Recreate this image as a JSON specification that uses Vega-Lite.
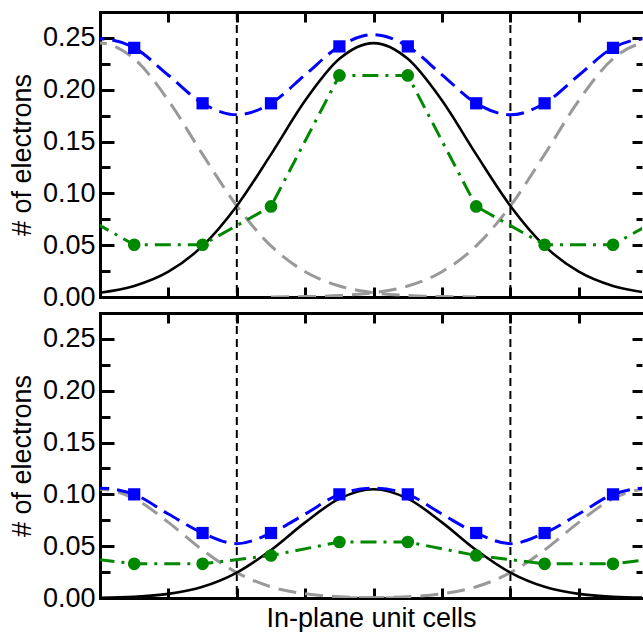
{
  "$schema": "https://vega.github.io/schema/vega-lite/v6.json",
  "padding": {"left": 8, "top": 10, "right": 0, "bottom": 0},
  "spacing": 1,
  "background": "white",
  "config": {
    "view": {"stroke": null},
    "font": "Liberation Sans",
    "axis": {
      "labelFont": "Liberation Sans", "labelFontSize": 27, "labelColor": "black",
      "titleFont": "Liberation Sans", "titleFontSize": 27, "titleFontWeight": "normal", "titleColor": "black",
      "domainColor": "black", "domainWidth": 3, "domainCap": "square",
      "tickColor": "black", "tickWidth": 3, "grid": false, "zindex": 1
    }
  },
  "datasets": {
    "topCurves": [
      {"s": "black", "x": -4.5, "v": 0.0014}, {"s": "black", "x": -4, "v": 0.0041}, {"s": "black", "x": -3.5, "v": 0.0106}, {"s": "black", "x": -3, "v": 0.0244}, {"s": "black", "x": -2.5, "v": 0.0493}, {"s": "black", "x": -2, "v": 0.0879}, {"s": "black", "x": -1.5, "v": 0.1376}, {"s": "black", "x": -1, "v": 0.1896}, {"s": "black", "x": -0.5, "v": 0.2298}, {"s": "black", "x": 0, "v": 0.245}, {"s": "black", "x": 0.5, "v": 0.2298}, {"s": "black", "x": 1, "v": 0.1896}, {"s": "black", "x": 1.5, "v": 0.1376}, {"s": "black", "x": 2, "v": 0.0879}, {"s": "black", "x": 2.5, "v": 0.0493}, {"s": "black", "x": 3, "v": 0.0244}, {"s": "black", "x": 3.5, "v": 0.0106}, {"s": "black", "x": 4, "v": 0.0041}, {"s": "black", "x": 4.5, "v": 0.0014},
      {"s": "grayL", "x": -4.5, "v": 0.2298}, {"s": "grayL", "x": -4, "v": 0.245}, {"s": "grayL", "x": -3.5, "v": 0.2298}, {"s": "grayL", "x": -3, "v": 0.1896}, {"s": "grayL", "x": -2.5, "v": 0.1376}, {"s": "grayL", "x": -2, "v": 0.0879}, {"s": "grayL", "x": -1.5, "v": 0.0493}, {"s": "grayL", "x": -1, "v": 0.0244}, {"s": "grayL", "x": -0.5, "v": 0.0106}, {"s": "grayL", "x": 0, "v": 0.0041}, {"s": "grayL", "x": 0.5, "v": 0.0014}, {"s": "grayL", "x": 1, "v": 0.0004}, {"s": "grayL", "x": 1.5, "v": 0.0001},
      {"s": "grayR", "x": -1.5, "v": 0.0001}, {"s": "grayR", "x": -1, "v": 0.0004}, {"s": "grayR", "x": -0.5, "v": 0.0014}, {"s": "grayR", "x": 0, "v": 0.0041}, {"s": "grayR", "x": 0.5, "v": 0.0106}, {"s": "grayR", "x": 1, "v": 0.0244}, {"s": "grayR", "x": 1.5, "v": 0.0493}, {"s": "grayR", "x": 2, "v": 0.0879}, {"s": "grayR", "x": 2.5, "v": 0.1376}, {"s": "grayR", "x": 3, "v": 0.1896}, {"s": "grayR", "x": 3.5, "v": 0.2298}, {"s": "grayR", "x": 4, "v": 0.245}, {"s": "grayR", "x": 4.5, "v": 0.2298},
      {"s": "blue", "x": -4.5, "v": 0.2312}, {"s": "blue", "x": -4, "v": 0.2491}, {"s": "blue", "x": -3.5, "v": 0.2404}, {"s": "blue", "x": -3, "v": 0.214}, {"s": "blue", "x": -2.5, "v": 0.1869}, {"s": "blue", "x": -2, "v": 0.1758}, {"s": "blue", "x": -1.5, "v": 0.1869}, {"s": "blue", "x": -1, "v": 0.2144}, {"s": "blue", "x": -0.5, "v": 0.2418}, {"s": "blue", "x": 0, "v": 0.2532}, {"s": "blue", "x": 0.5, "v": 0.2418}, {"s": "blue", "x": 1, "v": 0.2144}, {"s": "blue", "x": 1.5, "v": 0.1869}, {"s": "blue", "x": 2, "v": 0.1758}, {"s": "blue", "x": 2.5, "v": 0.1869}, {"s": "blue", "x": 3, "v": 0.214}, {"s": "blue", "x": 3.5, "v": 0.2404}, {"s": "blue", "x": 4, "v": 0.2491}, {"s": "blue", "x": 4.5, "v": 0.2312}
    ],
    "topPoints": [
      {"x": -4.5, "blue": 0.2312, "green": 0.0874, "m": 0},
      {"x": -3.5, "blue": 0.2404, "green": 0.0504, "m": 1},
      {"x": -2.5, "blue": 0.1869, "green": 0.0504, "m": 1},
      {"x": -1.5, "blue": 0.1869, "green": 0.0874, "m": 1},
      {"x": -0.5, "blue": 0.2418, "green": 0.2138, "m": 1},
      {"x": 0.5, "blue": 0.2418, "green": 0.2138, "m": 1},
      {"x": 1.5, "blue": 0.1869, "green": 0.0874, "m": 1},
      {"x": 2.5, "blue": 0.1869, "green": 0.0504, "m": 1},
      {"x": 3.5, "blue": 0.2404, "green": 0.0504, "m": 1},
      {"x": 4.5, "blue": 0.2312, "green": 0.0874, "m": 0}
    ],
    "botCurves": [
      {"s": "black", "x": -4.5, "v": 0.0001}, {"s": "black", "x": -4, "v": 0.0003}, {"s": "black", "x": -3.5, "v": 0.0012}, {"s": "black", "x": -3, "v": 0.004}, {"s": "black", "x": -2.5, "v": 0.0108}, {"s": "black", "x": -2, "v": 0.0245}, {"s": "black", "x": -1.5, "v": 0.0463}, {"s": "black", "x": -1, "v": 0.073}, {"s": "black", "x": -0.5, "v": 0.0959}, {"s": "black", "x": 0, "v": 0.105}, {"s": "black", "x": 0.5, "v": 0.0959}, {"s": "black", "x": 1, "v": 0.073}, {"s": "black", "x": 1.5, "v": 0.0463}, {"s": "black", "x": 2, "v": 0.0245}, {"s": "black", "x": 2.5, "v": 0.0108}, {"s": "black", "x": 3, "v": 0.004}, {"s": "black", "x": 3.5, "v": 0.0012}, {"s": "black", "x": 4, "v": 0.0003}, {"s": "black", "x": 4.5, "v": 0.0001},
      {"s": "grayL", "x": -4.5, "v": 0.0959}, {"s": "grayL", "x": -4, "v": 0.105}, {"s": "grayL", "x": -3.5, "v": 0.0959}, {"s": "grayL", "x": -3, "v": 0.073}, {"s": "grayL", "x": -2.5, "v": 0.0463}, {"s": "grayL", "x": -2, "v": 0.0245}, {"s": "grayL", "x": -1.5, "v": 0.0108}, {"s": "grayL", "x": -1, "v": 0.004}, {"s": "grayL", "x": -0.5, "v": 0.0012}, {"s": "grayL", "x": 0, "v": 0.0003}, {"s": "grayL", "x": 0.5, "v": 0.0001},
      {"s": "grayR", "x": -0.5, "v": 0.0001}, {"s": "grayR", "x": 0, "v": 0.0003}, {"s": "grayR", "x": 0.5, "v": 0.0012}, {"s": "grayR", "x": 1, "v": 0.004}, {"s": "grayR", "x": 1.5, "v": 0.0108}, {"s": "grayR", "x": 2, "v": 0.0245}, {"s": "grayR", "x": 2.5, "v": 0.0463}, {"s": "grayR", "x": 3, "v": 0.073}, {"s": "grayR", "x": 3.5, "v": 0.0959}, {"s": "grayR", "x": 4, "v": 0.105}, {"s": "grayR", "x": 4.5, "v": 0.0959},
      {"s": "blue", "x": -4.5, "v": 0.1}, {"s": "blue", "x": -4, "v": 0.106}, {"s": "blue", "x": -3.5, "v": 0.1}, {"s": "blue", "x": -3, "v": 0.081}, {"s": "blue", "x": -2.5, "v": 0.0627}, {"s": "blue", "x": -2, "v": 0.0524}, {"s": "blue", "x": -1.5, "v": 0.0627}, {"s": "blue", "x": -1, "v": 0.081}, {"s": "blue", "x": -0.5, "v": 0.1}, {"s": "blue", "x": 0, "v": 0.106}, {"s": "blue", "x": 0.5, "v": 0.1}, {"s": "blue", "x": 1, "v": 0.081}, {"s": "blue", "x": 1.5, "v": 0.0627}, {"s": "blue", "x": 2, "v": 0.0524}, {"s": "blue", "x": 2.5, "v": 0.0627}, {"s": "blue", "x": 3, "v": 0.081}, {"s": "blue", "x": 3.5, "v": 0.1}, {"s": "blue", "x": 4, "v": 0.106}, {"s": "blue", "x": 4.5, "v": 0.1}
    ],
    "botPoints": [
      {"x": -4.5, "blue": 0.1, "green": 0.041, "m": 0},
      {"x": -3.5, "blue": 0.1, "green": 0.033, "m": 1},
      {"x": -2.5, "blue": 0.0627, "green": 0.033, "m": 1},
      {"x": -1.5, "blue": 0.0627, "green": 0.041, "m": 1},
      {"x": -0.5, "blue": 0.1, "green": 0.054, "m": 1},
      {"x": 0.5, "blue": 0.1, "green": 0.054, "m": 1},
      {"x": 1.5, "blue": 0.0627, "green": 0.041, "m": 1},
      {"x": 2.5, "blue": 0.0627, "green": 0.033, "m": 1},
      {"x": 3.5, "blue": 0.1, "green": 0.033, "m": 1},
      {"x": 4.5, "blue": 0.1, "green": 0.041, "m": 0}
    ],
    "bounds": [{"x": -2}, {"x": 2}]
  },
  "vconcat": [
    {
      "width": 542, "height": 285,
      "resolve": {"axis": {"x": "independent", "y": "independent"}},
      "layer": [
        {"data": {"name": "bounds"}, "mark": {"type": "rule", "color": "black", "strokeWidth": 2, "strokeDash": [8, 5]},
         "encoding": {"x": {"field": "x", "type": "quantitative", "scale": {"domain": [-4, 3.924], "nice": false, "zero": false}, "axis": null}}},
        {"data": {"name": "topCurves"}, "transform": [{"filter": "datum.s == 'grayL'"}],
         "mark": {"type": "line", "color": "#999999", "strokeWidth": 3, "strokeDash": [18, 9], "interpolate": "monotone", "clip": true},
         "encoding": {
           "x": {"field": "x", "type": "quantitative", "scale": {"domain": [-4, 3.924], "nice": false, "zero": false},
                 "axis": {"orient": "bottom", "values": [-3, -2, -1, 0, 1, 2, 3], "labels": false, "tickSize": -10, "title": null}},
           "y": {"field": "v", "type": "quantitative", "scale": {"domain": [0, 0.275], "nice": false, "zero": false},
                 "axis": {"orient": "left", "values": [0, 0.025, 0.05, 0.075, 0.1, 0.125, 0.15, 0.175, 0.2, 0.225, 0.25],
                          "labelExpr": "abs(datum.value*20-round(datum.value*20))<0.01 ? format(datum.value,'.2f') : ''",
                          "tickSize": {"condition": {"test": "abs(datum.value*20-round(datum.value*20))<0.01", "value": -14}, "value": -10},
                          "labelPadding": 19, "labelFlush": false, "labelOverlap": false, "title": "# of electrons", "titlePadding": 6}}
         }},
        {"data": {"name": "topCurves"}, "transform": [{"filter": "datum.s == 'grayR'"}],
         "mark": {"type": "line", "color": "#999999", "strokeWidth": 3, "strokeDash": [18, 9], "interpolate": "monotone", "clip": true},
         "encoding": {
           "x": {"field": "x", "type": "quantitative", "scale": {"domain": [-4, 3.924], "nice": false, "zero": false},
                 "axis": {"orient": "top", "values": [-3, -2, -1, 0, 1, 2, 3], "labels": false, "tickSize": -10, "title": null}},
           "y": {"field": "v", "type": "quantitative", "scale": {"domain": [0, 0.275], "nice": false, "zero": false},
                 "axis": {"orient": "right", "values": [0, 0.025, 0.05, 0.075, 0.1, 0.125, 0.15, 0.175, 0.2, 0.225, 0.25],
                          "labels": false, "domain": false,
                          "tickSize": {"condition": {"test": "abs(datum.value*20-round(datum.value*20))<0.01", "value": -10}, "value": -6},
                          "title": null}}
         }},
        {"data": {"name": "topCurves"}, "transform": [{"filter": "datum.s == 'black'"}],
         "mark": {"type": "line", "color": "black", "strokeWidth": 2.6, "interpolate": "monotone", "clip": true},
         "encoding": {
           "x": {"field": "x", "type": "quantitative", "scale": {"domain": [-4, 3.924], "nice": false, "zero": false}, "axis": null},
           "y": {"field": "v", "type": "quantitative", "scale": {"domain": [0, 0.275], "nice": false, "zero": false}, "axis": null}
         }},
        {"data": {"name": "topCurves"}, "transform": [{"filter": "datum.s == 'blue'"}],
         "mark": {"type": "line", "color": "#0000ff", "strokeWidth": 3, "strokeDash": [18, 8], "interpolate": "monotone", "clip": true},
         "encoding": {
           "x": {"field": "x", "type": "quantitative", "scale": {"domain": [-4, 3.924], "nice": false, "zero": false}, "axis": null},
           "y": {"field": "v", "type": "quantitative", "scale": {"domain": [0, 0.275], "nice": false, "zero": false}, "axis": null}
         }},
        {"data": {"name": "topPoints"},
         "mark": {"type": "line", "color": "#008800", "strokeWidth": 3, "strokeDash": [16, 7, 3, 7], "clip": true},
         "encoding": {
           "x": {"field": "x", "type": "quantitative", "scale": {"domain": [-4, 3.924], "nice": false, "zero": false}, "axis": null},
           "y": {"field": "green", "type": "quantitative", "scale": {"domain": [0, 0.275], "nice": false, "zero": false}, "axis": null}
         }},
        {"data": {"name": "topPoints"}, "transform": [{"filter": "datum.m == 1"}],
         "mark": {"type": "point", "shape": "square", "filled": true, "color": "#0000ff", "opacity": 1, "size": 150, "clip": true},
         "encoding": {
           "x": {"field": "x", "type": "quantitative", "scale": {"domain": [-4, 3.924], "nice": false, "zero": false}, "axis": null},
           "y": {"field": "blue", "type": "quantitative", "scale": {"domain": [0, 0.275], "nice": false, "zero": false}, "axis": null}
         }},
        {"data": {"name": "topPoints"}, "transform": [{"filter": "datum.m == 1"}],
         "mark": {"type": "point", "shape": "circle", "filled": true, "color": "#008800", "opacity": 1, "size": 160, "clip": true},
         "encoding": {
           "x": {"field": "x", "type": "quantitative", "scale": {"domain": [-4, 3.924], "nice": false, "zero": false}, "axis": null},
           "y": {"field": "green", "type": "quantitative", "scale": {"domain": [0, 0.275], "nice": false, "zero": false}, "axis": null}
         }}
      ]
    },
    {
      "width": 542, "height": 285,
      "resolve": {"axis": {"x": "independent", "y": "independent"}},
      "layer": [
        {"data": {"name": "bounds"}, "mark": {"type": "rule", "color": "black", "strokeWidth": 2, "strokeDash": [8, 5]},
         "encoding": {"x": {"field": "x", "type": "quantitative", "scale": {"domain": [-4, 3.924], "nice": false, "zero": false}, "axis": null}}},
        {"data": {"name": "botCurves"}, "transform": [{"filter": "datum.s == 'grayL'"}],
         "mark": {"type": "line", "color": "#999999", "strokeWidth": 3, "strokeDash": [18, 9], "interpolate": "monotone", "clip": true},
         "encoding": {
           "x": {"field": "x", "type": "quantitative", "scale": {"domain": [-4, 3.924], "nice": false, "zero": false},
                 "axis": {"orient": "bottom", "values": [-3, -2, -1, 0, 1, 2, 3], "labels": false, "tickSize": -10, "title": "In-plane unit cells", "titlePadding": 6}},
           "y": {"field": "v", "type": "quantitative", "scale": {"domain": [0, 0.275], "nice": false, "zero": false},
                 "axis": {"orient": "left", "values": [0, 0.025, 0.05, 0.075, 0.1, 0.125, 0.15, 0.175, 0.2, 0.225, 0.25],
                          "labelExpr": "abs(datum.value*20-round(datum.value*20))<0.01 ? format(datum.value,'.2f') : ''",
                          "tickSize": {"condition": {"test": "abs(datum.value*20-round(datum.value*20))<0.01", "value": -14}, "value": -10},
                          "labelPadding": 19, "labelFlush": false, "labelOverlap": false, "title": "# of electrons", "titlePadding": 6}}
         }},
        {"data": {"name": "botCurves"}, "transform": [{"filter": "datum.s == 'grayR'"}],
         "mark": {"type": "line", "color": "#999999", "strokeWidth": 3, "strokeDash": [18, 9], "interpolate": "monotone", "clip": true},
         "encoding": {
           "x": {"field": "x", "type": "quantitative", "scale": {"domain": [-4, 3.924], "nice": false, "zero": false},
                 "axis": {"orient": "top", "values": [-3, -2, -1, 0, 1, 2, 3], "labels": false, "tickSize": -10, "title": null}},
           "y": {"field": "v", "type": "quantitative", "scale": {"domain": [0, 0.275], "nice": false, "zero": false},
                 "axis": {"orient": "right", "values": [0, 0.025, 0.05, 0.075, 0.1, 0.125, 0.15, 0.175, 0.2, 0.225, 0.25],
                          "labels": false, "domain": false,
                          "tickSize": {"condition": {"test": "abs(datum.value*20-round(datum.value*20))<0.01", "value": -10}, "value": -6},
                          "title": null}}
         }},
        {"data": {"name": "botCurves"}, "transform": [{"filter": "datum.s == 'black'"}],
         "mark": {"type": "line", "color": "black", "strokeWidth": 2.6, "interpolate": "monotone", "clip": true},
         "encoding": {
           "x": {"field": "x", "type": "quantitative", "scale": {"domain": [-4, 3.924], "nice": false, "zero": false}, "axis": null},
           "y": {"field": "v", "type": "quantitative", "scale": {"domain": [0, 0.275], "nice": false, "zero": false}, "axis": null}
         }},
        {"data": {"name": "botCurves"}, "transform": [{"filter": "datum.s == 'blue'"}],
         "mark": {"type": "line", "color": "#0000ff", "strokeWidth": 3, "strokeDash": [18, 8], "interpolate": "monotone", "clip": true},
         "encoding": {
           "x": {"field": "x", "type": "quantitative", "scale": {"domain": [-4, 3.924], "nice": false, "zero": false}, "axis": null},
           "y": {"field": "v", "type": "quantitative", "scale": {"domain": [0, 0.275], "nice": false, "zero": false}, "axis": null}
         }},
        {"data": {"name": "botPoints"},
         "mark": {"type": "line", "color": "#008800", "strokeWidth": 3, "strokeDash": [16, 7, 3, 7], "clip": true},
         "encoding": {
           "x": {"field": "x", "type": "quantitative", "scale": {"domain": [-4, 3.924], "nice": false, "zero": false}, "axis": null},
           "y": {"field": "green", "type": "quantitative", "scale": {"domain": [0, 0.275], "nice": false, "zero": false}, "axis": null}
         }},
        {"data": {"name": "botPoints"}, "transform": [{"filter": "datum.m == 1"}],
         "mark": {"type": "point", "shape": "square", "filled": true, "color": "#0000ff", "opacity": 1, "size": 150, "clip": true},
         "encoding": {
           "x": {"field": "x", "type": "quantitative", "scale": {"domain": [-4, 3.924], "nice": false, "zero": false}, "axis": null},
           "y": {"field": "blue", "type": "quantitative", "scale": {"domain": [0, 0.275], "nice": false, "zero": false}, "axis": null}
         }},
        {"data": {"name": "botPoints"}, "transform": [{"filter": "datum.m == 1"}],
         "mark": {"type": "point", "shape": "circle", "filled": true, "color": "#008800", "opacity": 1, "size": 160, "clip": true},
         "encoding": {
           "x": {"field": "x", "type": "quantitative", "scale": {"domain": [-4, 3.924], "nice": false, "zero": false}, "axis": null},
           "y": {"field": "green", "type": "quantitative", "scale": {"domain": [0, 0.275], "nice": false, "zero": false}, "axis": null}
         }}
      ]
    }
  ]
}
